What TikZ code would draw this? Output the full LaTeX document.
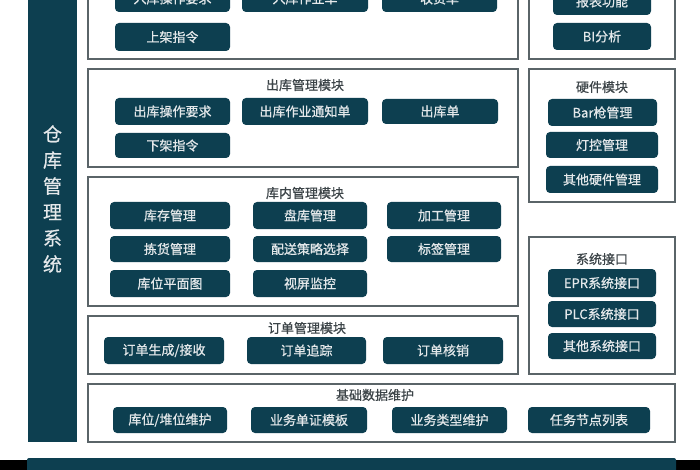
\documentclass[tikz,border=0pt]{standalone}
\usepackage{fontspec}
\newfontfamily\cjk[FakeBold=0.7]{Noto Sans CJK SC}
\newfontfamily\cjkside[FakeBold=0.5]{Noto Sans CJK SC}
\definecolor{darkteal}{HTML}{0D3F50}
\definecolor{framegray}{HTML}{5A6468}
\definecolor{titlegray}{HTML}{3C4448}
\definecolor{lighttext}{HTML}{E4E8EA}
\newcommand\ibox[6]{%
  \node[item, minimum width={(#4-#2)*1pt}, minimum height={(#5-#3)*1pt}] (#1) at ({(#2+#4)/2},{(#3+#5)/2}) {#6};}
\begin{document}
\begin{tikzpicture}[x=1pt,y=-1pt,
  module/.style={draw=framegray, line width=1.2pt, fill=white},
  item/.style={fill=darkteal, rounded corners=4pt, text=lighttext, inner sep=0pt,
    font=\cjk\fontsize{13}{13}\selectfont},
  modtitle/.style={text=titlegray, inner sep=0pt, font=\cjk\fontsize{13}{13}\selectfont}]
\useasboundingbox (0,0) rectangle (700,470);
\clip (0,0) rectangle (700,470);
\fill[white] (0,0) rectangle (700,470);

% left bar
\fill[darkteal] (28,-5) rectangle (77,442);
\node[text=lighttext, align=center, inner sep=0pt,
  font=\cjkside\fontsize{19}{26}\selectfont] (sysname) at (52.5,199) {仓\\库\\管\\理\\系\\统};

% bottom bar and frame edges
\fill[black] (0,460) rectangle (27,470);
\fill[black] (676,460) rectangle (700,470);
\fill[darkteal, rounded corners=2pt] (27,458) rectangle (676,480);

% top module (cut)
\draw[module] (88,-20) rectangle (518,59);
\ibox{rkczyq}{115}{-15}{230}{12}{入库操作要求}
\ibox{rkzyd}{242}{-15}{368}{12}{入库作业单}
\ibox{shd}{382}{-15}{497}{12}{收货单}
\ibox{sjzl}{115}{23}{230}{51}{上架指令}

% report module (cut)
\draw[module] (529,-20) rectangle (675,59);
\ibox{bbgn}{553}{-12}{651}{15}{报表功能}
\ibox{bifx}{553}{23}{651}{50}{BI分析}

% outbound
\draw[module] (88,69) rectangle (518,167);
\node[modtitle] (ckt) at (305,85) {出库管理模块};
\ibox{ckczyq}{115}{98}{230}{125}{出库操作要求}
\ibox{ckzytzd}{242}{98}{368}{125}{出库作业通知单}
\ibox{ckd}{382}{99}{498}{124}{出库单}
\ibox{xjzl}{115}{133}{230}{158}{下架指令}

% hardware
\draw[module] (529,69) rectangle (675,202);
\node[modtitle] (yjt) at (602,87) {硬件模块};
\ibox{barq}{548}{99}{657}{126}{Bar枪管理}
\ibox{dkgl}{546}{132}{658}{158}{灯控管理}
\ibox{qtyj}{546}{166}{658}{193}{其他硬件管理}

% in-warehouse
\draw[module] (88,177) rectangle (518,306);
\node[modtitle] (knt) at (305,193) {库内管理模块};
\ibox{kcgl}{110}{202}{230}{229}{库存管理}
\ibox{pkgl}{253}{202}{367}{229}{盘库管理}
\ibox{jggl}{387}{202}{501}{229}{加工管理}
\ibox{jhgl}{110}{236}{230}{262}{拣货管理}
\ibox{psclxz}{253}{236}{367}{262}{配送策略选择}
\ibox{bqgl}{387}{236}{501}{262}{标签管理}
\ibox{kwpmt}{110}{270}{230}{297}{库位平面图}
\ibox{spjk}{253}{270}{367}{297}{视屏监控}

% system interfaces
\draw[module] (529,237) rectangle (675,374);
\node[modtitle] (xtjkt) at (602,259) {系统接口};
\ibox{epr}{548}{269}{656}{297}{EPR系统接口}
\ibox{plc}{548}{301}{656}{327}{PLC系统接口}
\ibox{qtxt}{548}{333}{656}{359}{其他系统接口}

% orders
\draw[module] (88,316) rectangle (518,374);
\node[modtitle] (ddt) at (307,328) {订单管理模块};
\ibox{ddsc}{104}{337}{224}{364}{订单生成/接收}
\ibox{ddzz}{247}{337}{366}{364}{订单追踪}
\ibox{ddhx}{383}{337}{503}{364}{订单核销}

% base data
\draw[module] (88,384) rectangle (675,442);
\node[modtitle] (jct) at (375,395) {基础数据维护};
\ibox{kwdw}{113}{407}{227}{433}{库位/堆位维护}
\ibox{ywdz}{251}{407}{367}{433}{业务单证模板}
\ibox{ywlx}{392}{407}{507}{433}{业务类型维护}
\ibox{rwjd}{528}{407}{650}{433}{任务节点列表}
\end{tikzpicture}
\end{document}
